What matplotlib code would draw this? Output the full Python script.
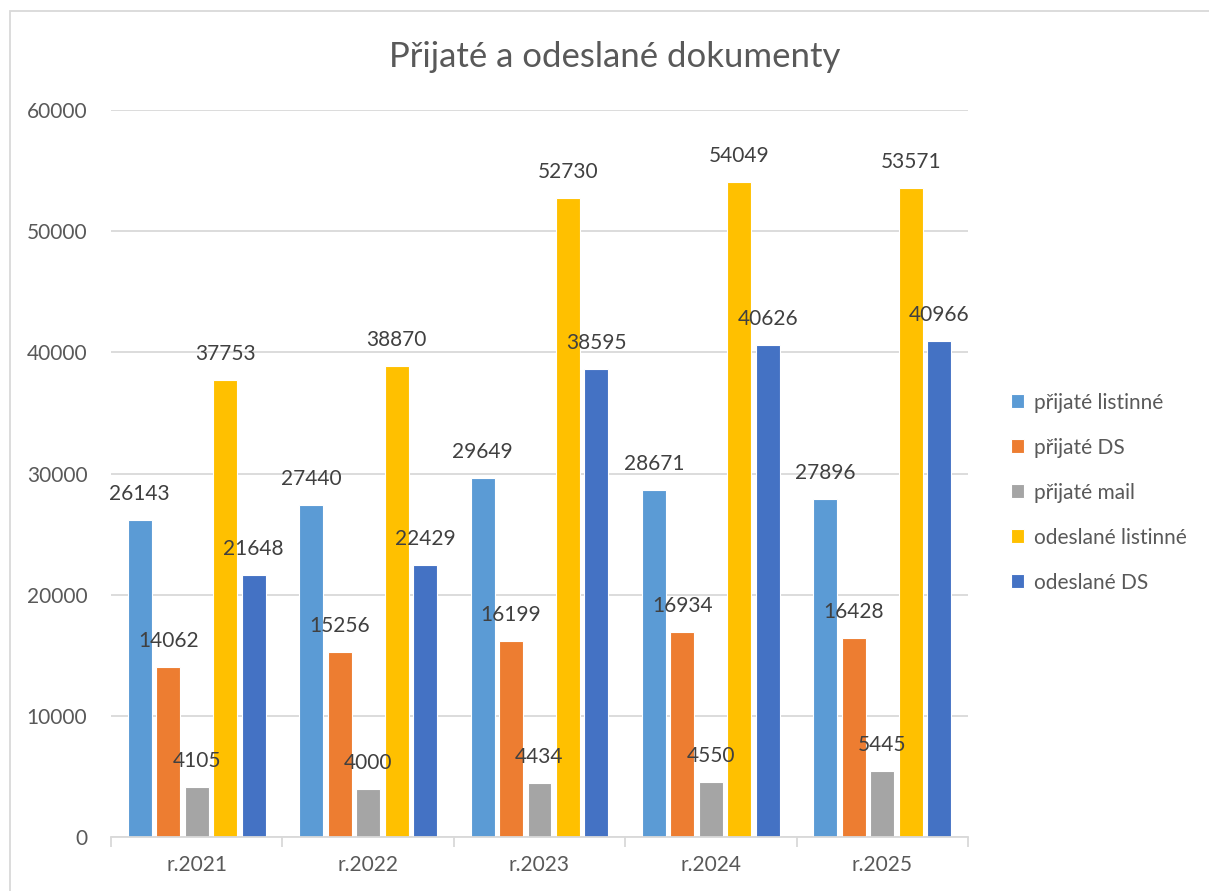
import numpy as np
import matplotlib
matplotlib.use('Agg')
import matplotlib.pyplot as plt
from matplotlib.patches import Rectangle


# ----
# Data
# ----
years = ['r.2021', 'r.2022', 'r.2023', 'r.2024', 'r.2025']
series_names = ['přijaté listinné', 'přijaté DS', 'přijaté mail',
                'odeslané listinné', 'odeslané DS']
prijate_listinne = [26143, 27440, 29649, 28671, 27896]
prijate_ds = [14062, 15256, 16199, 16934, 16428]
prijate_mail = [4105, 4000, 4434, 4550, 5445]
odeslane_listinne = [37753, 38870, 52730, 54049, 53571]
odeslane_ds = [21648, 22429, 38595, 40626, 40966]
yticks = [0, 10000, 20000, 30000, 40000, 50000, 60000]

colors = ['#5B9BD5', '#ED7D31', '#A5A5A5', '#FFC000', '#4472C4']
series = [prijate_listinne, prijate_ds, prijate_mail, odeslane_listinne, odeslane_ds]

plt.rcParams['font.family'] = ['Lato', 'DejaVu Sans']

fig = plt.figure(figsize=(12.09, 8.91), dpi=100)
W, H = 1209., 891.

# chart frame (Excel style)
fig.patches.append(Rectangle((10/W, -0.1), 1.2, (891-11)/H + 0.1, transform=fig.transFigure,
                             fill=False, edgecolor='#D9D9D9', lw=1.3))

ax = fig.add_axes([111/W, 54/H, (968-111)/W, (837-110)/H])

x = np.arange(len(years))
pitch = 0.166
width = 0.14

for i in range(len(series)):
  pos = x + (i-2)*pitch
  ax.bar(pos, series[i], width=width, color=colors[i], edgecolor='white',
         linewidth=0.8, label=series_names[i], zorder=2)
  for xp, v in zip(pos, series[i]):
    ax.annotate(str(v), (xp, v), xytext=(0, 26), textcoords='offset pixels',
                ha='center', va='center', fontsize=15, color='#404040')

ax.set_xlim(-0.5, len(years)-0.5)
ax.set_ylim(0, 60000)
ax.set_yticks(yticks)
ax.set_yticklabels([str(t) for t in yticks])
ax.yaxis.grid(True, color='#D9D9D9', lw=1.3, zorder=0)
ax.set_axisbelow(True)
ax.tick_params(axis='y', length=0, pad=17, labelsize=15, labelcolor='#595959')

# category labels and separators
ax.set_xticks(np.arange(-0.5, len(years), 1.0))
ax.set_xticklabels([])
ax.set_xticks(x, minor=True)
ax.set_xticklabels(years, minor=True)
ax.tick_params(axis='x', which='major', length=7, color='#D9D9D9', width=1.3, direction='out')
ax.tick_params(axis='x', which='minor', length=0, pad=13, labelsize=15, labelcolor='#595959')

for s in ['top', 'right', 'left']:
  ax.spines[s].set_visible(False)
ax.spines['bottom'].set_color('#D9D9D9')
ax.spines['bottom'].set_linewidth(1.3)

fig.text(615/W, 1-57/H, 'Přijaté a odeslané dokumenty', ha='center', va='center',
         fontsize=25, color='#595959')

leg = ax.legend(loc='upper left', bbox_to_anchor=(992/W, 1-374/H), bbox_transform=fig.transFigure,
                frameon=False, fontsize=15, labelspacing=1.2, handlelength=0.65,
                handleheight=0.65, handletextpad=0.45)
for t in leg.get_texts():
  t.set_color('#595959')

fig.savefig('out.png', dpi=100)
